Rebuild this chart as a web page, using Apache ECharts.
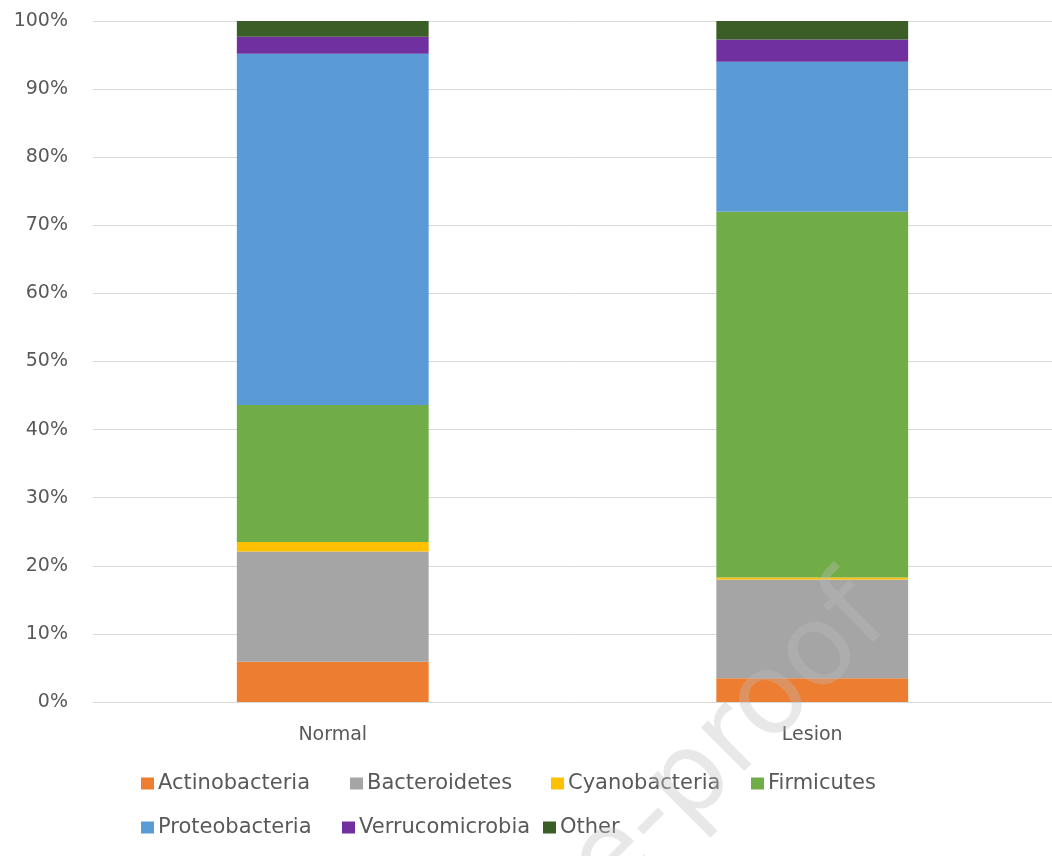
<!DOCTYPE html>
<html>
<head>
<meta charset="utf-8">
<script src="https://cdn.jsdelivr.net/npm/echarts@6/dist/echarts.min.js"></script>
<style>
  html, body { margin: 0; padding: 0; background: #fff; }
  #main { width: 1052px; height: 856px; }
</style>
</head>
<body>
<div id="main"></div>
<script>
var categories = ['Normal', 'Lesion'];
var seriesNames = ['Actinobacteria', 'Bacteroidetes', 'Cyanobacteria', 'Firmicutes',
                   'Proteobacteria', 'Verrucomicrobia', 'Other'];
// percent of total, per group
var actinobacteria  = [5.9, 3.5];
var bacteroidetes   = [16.2, 14.5];
var cyanobacteria   = [1.4, 0.3];
var firmicutes      = [20.1, 53.7];
var proteobacteria  = [51.6, 22.0];
var verrucomicrobia = [2.5, 3.3];
var other           = [2.3, 2.7];

var values = [actinobacteria, bacteroidetes, cyanobacteria, firmicutes,
              proteobacteria, verrucomicrobia, other];
var colors = ['#ED7D31', '#A5A5A5', '#FFC000', '#70AD47', '#5B9BD5', '#7030A0', '#3B5E26'];

var font = "'DejaVu Sans', sans-serif";

// legend entries are laid out like Excel does it: fixed spots, two rows
var legendSpots = [[141, 786], [350, 786], [551, 786], [751, 786],
                   [141, 830], [342, 830], [543, 830]];

var chart = echarts.init(document.getElementById('main'));

var series = seriesNames.map(function (name, i) {
    return {
        name: name,
        type: 'bar',
        stack: 'total',
        barWidth: '40%',
        data: values[i],
        itemStyle: { color: colors[i] }
    };
});

var legends = seriesNames.map(function (name, i) {
    return {
        left: legendSpots[i][0],
        top: legendSpots[i][1] - 13,
        padding: 0,
        itemWidth: 13,
        itemHeight: 12,
        itemGap: 0,
        icon: 'rect',
        data: [name],
        textStyle: { fontFamily: font, fontSize: 21, color: '#595959', padding: [0, 0, 0, -1] }
    };
});

chart.setOption({
    animation: false,
    color: colors,
    grid: { left: 93, right: -9, top: 21, bottom: 154 },
    legend: legends,
    xAxis: {
        type: 'category',
        data: categories,
        axisLine: { lineStyle: { color: '#D9D9D9' } },
        axisTick: { show: false },
        axisLabel: { fontFamily: font, fontSize: 19, color: '#595959', margin: 24 }
    },
    yAxis: {
        type: 'value',
        min: 0,
        max: 100,
        interval: 10,
        axisLine: { show: false },
        axisTick: { show: false },
        splitLine: { lineStyle: { color: '#D9D9D9' } },
        axisLabel: { fontFamily: font, fontSize: 19, color: '#595959', margin: 25,
            formatter: '{value}%' }
    },
    // faint "Journal Pre-proof" stamp across the lower right
    graphic: [{
        type: 'text',
        x: 872,
        y: 602,
        rotation: Math.PI / 4,
        z: 100,
        style: {
            text: 'Journal Pre-proof',
            fontFamily: font,
            fontSize: 112,
            fill: '#BDBDBD',
            opacity: 0.35,
            align: 'right',
            verticalAlign: 'middle'
        }
    }],
    series: series
});
</script>
</body>
</html>
